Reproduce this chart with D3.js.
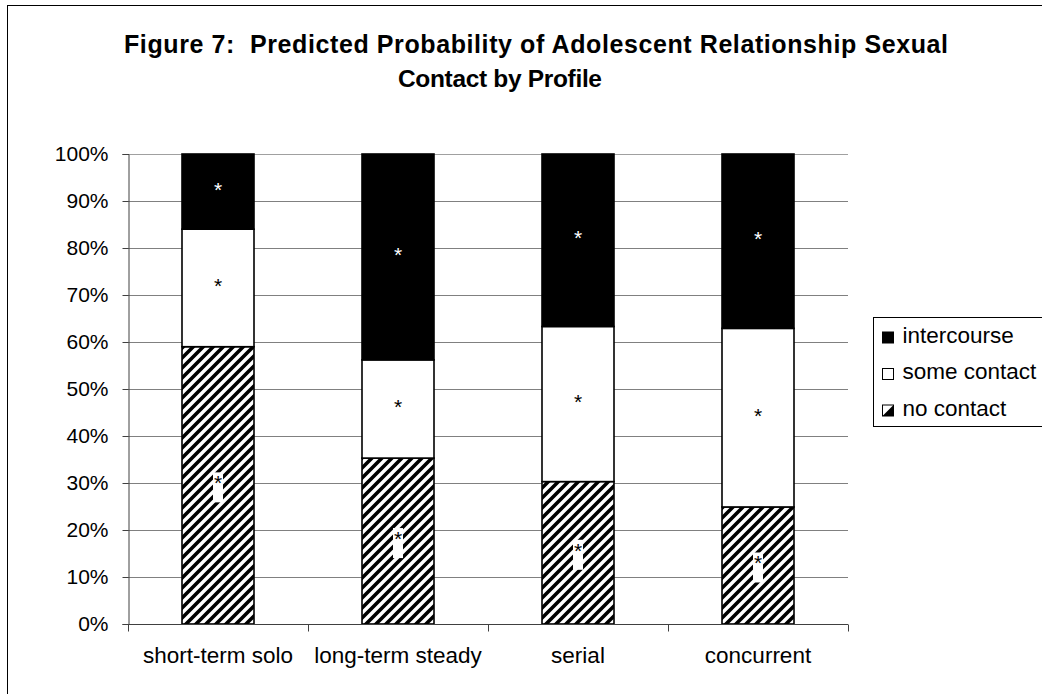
<!DOCTYPE html>
<html>
<head>
<meta charset="utf-8">
<script src="https://cdn.jsdelivr.net/npm/d3@7"></script>
<style>
  html, body { margin: 0; padding: 0; background: #fff; }
  svg { display: block; font-family: "Liberation Sans", Arial, sans-serif; }
</style>
</head>
<body>
<svg id="chart" width="1042" height="694"></svg>
<script>
// Profiles and predicted probabilities of each contact level (stacked to 100%)
const categories = ["short-term solo", "long-term steady", "serial", "concurrent"];
const noContact = [0.590, 0.353, 0.303, 0.249];
const someContact = [0.250, 0.209, 0.330, 0.380];
const intercourse = [0.160, 0.438, 0.367, 0.371];
const seriesNames = ["no contact", "some contact", "intercourse"];
const yTicks = [0, 0.1, 0.2, 0.3, 0.4, 0.5, 0.6, 0.7, 0.8, 0.9, 1.0];
const titleLines = ["Figure 7:  Predicted Probability of Adolescent Relationship Sexual", "Contact by Profile"];

const svg = d3.select("#chart");

// Hatch pattern for the "no contact" segments
const defs = svg.append("defs");
const hatch = defs.append("pattern")
  .attr("id", "hatch")
  .attr("patternUnits", "userSpaceOnUse")
  .attr("width", 10).attr("height", 10);
hatch.append("rect").attr("width", 10).attr("height", 10).attr("fill", "#fff");
hatch.append("path")
  .attr("d", "M-2,2 L2,-2 M0,10 L10,0 M8,12 L12,8")
  .attr("stroke", "#000").attr("stroke-width", 3.6);

// Outer chart frame
svg.append("rect")
  .attr("x", 7.5).attr("y", 5.5).attr("width", 1100).attr("height", 800)
  .attr("fill", "none").attr("stroke", "#000").attr("stroke-width", 1);

// Title (two centred lines)
svg.append("text")
  .attr("x", 536).attr("y", 53).attr("text-anchor", "middle")
  .attr("font-size", 25).attr("font-weight", "bold")
  .attr("textLength", 824).attr("lengthAdjust", "spacing")
  .style("white-space", "pre")
  .text(titleLines[0]);
svg.append("text")
  .attr("x", 500).attr("y", 87).attr("text-anchor", "middle")
  .attr("font-size", 24.5).attr("font-weight", "bold")
  .attr("textLength", 204).attr("lengthAdjust", "spacing")
  .text(titleLines[1]);

const plot = { left: 128, right: 848, top: 154, bottom: 624 };

const x = d3.scaleBand()
  .domain(categories)
  .range([plot.left, plot.right])
  .paddingInner(0.6)
  .paddingOuter(0.3);

const y = d3.scaleLinear().domain([0, 1]).range([plot.bottom, plot.top]);

// Gridlines
svg.append("g")
  .selectAll("line")
  .data(yTicks.slice(1))
  .join("line")
  .attr("x1", plot.left).attr("x2", plot.right)
  .attr("y1", d => Math.round(y(d)) + 0.5).attr("y2", d => Math.round(y(d)) + 0.5)
  .attr("stroke", d => d === 1 ? "#a0a0a0" : "#808080")
  .attr("stroke-width", 1);

// Stacked data
const rows = categories.map((c, i) => ({
  category: c,
  "no contact": noContact[i],
  "some contact": someContact[i],
  "intercourse": intercourse[i]
}));
const stacked = d3.stack().keys(seriesNames)(rows);
const fills = { "no contact": "url(#hatch)", "some contact": "#fff", "intercourse": "#000" };

const barG = svg.append("g");
stacked.forEach(layer => {
  barG.selectAll(null)
    .data(layer)
    .join("rect")
    .attr("x", d => x(d.data.category))
    .attr("y", d => y(d[1]))
    .attr("width", x.bandwidth())
    .attr("height", d => y(d[0]) - y(d[1]))
    .attr("fill", fills[layer.key])
    .attr("stroke", "#000")
    .attr("stroke-width", 1.6);
});

// Significance markers in each segment
stacked.forEach(layer => {
  const g = svg.append("g");
  layer.forEach(d => {
    const cx = x(d.data.category) + x.bandwidth() / 2;
    const mid = (y(d[0]) + y(d[1])) / 2;
    if (layer.key === "no contact") {
      g.append("rect")
        .attr("x", cx - 5).attr("y", mid - 13)
        .attr("width", 10).attr("height", 30)
        .attr("fill", "#fff");
    }
    g.append("text")
      .attr("x", cx).attr("y", mid + 5)
      .attr("text-anchor", "middle")
      .attr("font-size", 21)
      .attr("fill", layer.key === "intercourse" ? "#fff" : "#000")
      .text("*");
  });
});

// Y axis
const yAxis = svg.append("g")
  .attr("transform", `translate(${plot.left + 0.5},0)`)
  .call(d3.axisLeft(y).tickValues(yTicks).tickFormat(d3.format(".0%")).tickSize(6).tickPadding(14));
yAxis.select(".domain").attr("stroke", "#404040");
yAxis.selectAll(".tick line").attr("stroke", "#404040");
yAxis.selectAll(".tick text").attr("font-size", 21).attr("fill", "#000")
  .attr("font-family", "'Liberation Sans', Arial, sans-serif");

// X axis: labels at band centres, ticks at category boundaries
const xAxis = svg.append("g")
  .attr("transform", `translate(0,${plot.bottom + 0.5})`)
  .call(d3.axisBottom(x).tickSize(0).tickPadding(23));
xAxis.select(".domain").attr("stroke", "#404040").attr("d", `M${plot.left},0H${plot.right}`);
xAxis.selectAll(".tick text").attr("font-size", 22.5).attr("fill", "#000")
  .attr("font-family", "'Liberation Sans', Arial, sans-serif");

const boundaries = categories.map(c => x(c) - x.step() * x.paddingOuter()).concat([plot.right]);
xAxis.selectAll(".bound")
  .data(boundaries)
  .join("line")
  .attr("class", "bound")
  .attr("x1", d => Math.round(d) + 0.5).attr("x2", d => Math.round(d) + 0.5)
  .attr("y1", 0).attr("y2", 7)
  .attr("stroke", "#404040");

// Legend
const legend = svg.append("g").attr("transform", "translate(873.5,317.5)");
legend.append("rect")
  .attr("width", 175).attr("height", 109)
  .attr("fill", "#fff").attr("stroke", "#000");
const legendItems = ["intercourse", "some contact", "no contact"];
legendItems.forEach((name, i) => {
  const row = legend.append("g").attr("transform", `translate(9,${14.5 + i * 36.5})`);
  if (name === "no contact") {
    row.append("rect").attr("width", 11).attr("height", 11).attr("fill", "#fff").attr("stroke", "#000");
    row.append("path").attr("d", "M0,11 L11,0 L11,11 Z").attr("fill", "#000");
  } else {
    row.append("rect").attr("width", 11).attr("height", 11)
      .attr("fill", name === "intercourse" ? "#000" : "#fff").attr("stroke", "#000");
  }
  row.append("text")
    .attr("x", 20).attr("y", 10.5)
    .attr("font-size", 22.5)
    .text(name);
});
</script>
</body>
</html>
